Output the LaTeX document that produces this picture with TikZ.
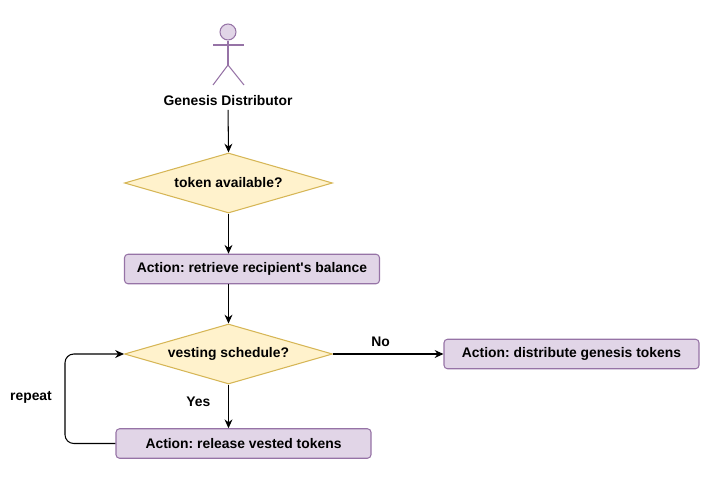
\documentclass[tikz,border=0pt]{standalone}
\usepackage{fontspec}
\setmainfont{Liberation Sans}
\usepackage{tikz}
\usetikzlibrary{shapes.geometric, arrows.meta}
\definecolor{actfill}{HTML}{E1D5E7}
\definecolor{actline}{HTML}{9673A6}
\definecolor{decfill}{HTML}{FFF2CC}
\definecolor{decline}{HTML}{D6B656}
\frenchspacing
\tikzset{
  label/.style={font=\fontsize{7.9}{9}\selectfont\bfseries, inner sep=0pt},
  action/.style={label, draw=actline, fill=actfill, rounded corners=2pt, line width=0.6pt, minimum width=5.1cm, minimum height=0.59cm},
  decision/.style={label, diamond, aspect=3.47, draw=decline, fill=decfill, line width=0.6pt, minimum width=4.16cm, minimum height=1.2cm},
  actor/.style={draw=actline, line width=0.6pt},
  flow/.style={->, >={Stealth[length=5pt,width=4.5pt]}, line width=0.6pt}
}
\begin{document}
\begin{tikzpicture}
\useasboundingbox (0,0) rectangle (14.3,9.52);
\node (Head) at (4.56,8.88) [circle, actor, fill=actfill, minimum size=0.32cm, inner sep=0pt] {};
\coordinate (Hip) at (4.56,8.22);
\node (Distributor) at (4.56,7.5) [label] {Genesis Distributor};
\node (Available) at (4.57,5.86) [decision] {token available?};
\node (Balance) at (5.04,4.14) [action] {Action: retrieve recipient\textquotesingle s balance};
\node (Schedule) at (4.57,2.44) [decision] {vesting schedule?};
\node (Genesis) at (11.43,2.44) [action] {Action: distribute genesis tokens};
\node (Release) at (4.87,0.65) [action] {Action: release vested tokens};
\node (Repeat) at (0.62,1.57) [label] {repeat};
\draw [actor] (Head) -- (Hip);
\draw [actor] (4.26,8.62) -- (4.88,8.62);
\draw [actor] (4.26,7.82) -- (Hip) -- (4.88,7.82);
\draw [flow, shorten <=2pt] (Distributor.south) -- (Available.north);
\draw [flow] (Available.south) -- (Available.south |- Balance.north);
\draw [flow] (Schedule.north |- Balance.south) -- (Schedule.north);
\draw [flow] (Schedule.east) -- node[pos=0.43, above=4pt, label] {No} (Genesis.west);
\draw [flow] (Schedule.south) -- node[pos=0.4, left=10pt, label] {Yes} (Schedule.south |- Release.north);
\draw [flow, rounded corners=5pt] (Release.west) -- (1.3,0.65) -- (1.3,2.44) -- (Schedule.west);
\end{tikzpicture}
\end{document}
